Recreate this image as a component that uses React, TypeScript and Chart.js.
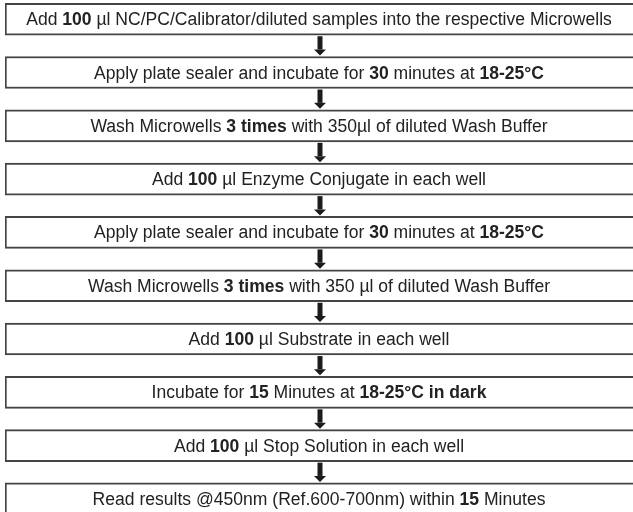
import { useEffect, useRef } from "react";
import { Chart, registerables } from "chart.js";

Chart.register(...registerables);

// Steps of the protocol (**...** = bold segment)
const steps: string[] = [
  "Add **100** µl NC/PC/Calibrator/diluted samples into the respective Microwells",
  "Apply plate sealer and incubate for **30** minutes at **18-25°C**",
  "Wash Microwells **3 times** with 350µl of diluted Wash Buffer",
  "Add **100** µl Enzyme Conjugate in each well",
  "Apply plate sealer and incubate for **30** minutes at **18-25°C**",
  "Wash Microwells **3 times** with 350 µl of diluted Wash Buffer",
  "Add **100** µl Substrate in each well",
  "Incubate for **15** Minutes at **18-25°C in dark**",
  "Add **100** µl Stop Solution in each well",
  "Read results @450nm (Ref.600-700nm) within **15** Minutes",
];
const stepOrder: number[] = [0, 1, 2, 3, 4, 5, 6, 7, 8, 9];
const boxStart: number[] = [0, 0, 0, 0, 0, 0, 0, 0, 0, 0];
const boxEnd: number[] = [100, 100, 100, 100, 100, 100, 100, 100, 100, 100];

const FONT_SIZE = 18;
const FONT_FAMILY = '"Liberation Sans", Arial, sans-serif';
const TEXT_SX = 0.975;
const TEXT_COLOR = "#222222";
const ARROW_COLOR = "#1b1b1b";

function parseSegments(s: string): { text: string; bold: boolean }[] {
  const parts = s.split("**");
  return parts
    .map((t, i) => ({ text: t, bold: i % 2 === 1 }))
    .filter((p) => p.text.length > 0);
}

const flowPlugin = {
  id: "flowText",
  afterDatasetsDraw(chart: any) {
    const meta = chart.getDatasetMeta(0);
    const ctx: CanvasRenderingContext2D = chart.ctx;
    const bars = meta.data;
    bars.forEach((bar: any, i: number) => {
      const p = bar.getProps(["x", "y", "base", "height"], true);
      const cx = (p.x + p.base) / 2;
      const cy = p.y;
      const segs = parseSegments(steps[i]);
      ctx.save();
      ctx.textBaseline = "middle";
      ctx.fillStyle = TEXT_COLOR;
      let total = 0;
      const widths = segs.map((sg) => {
        ctx.font = `${sg.bold ? "bold " : ""}${FONT_SIZE}px ${FONT_FAMILY}`;
        const w = ctx.measureText(sg.text).width;
        total += w;
        return w;
      });
      ctx.translate(cx, cy + 1);
      ctx.scale(TEXT_SX, 1);
      let x = -total / 2;
      segs.forEach((sg, k) => {
        ctx.font = `${sg.bold ? "bold " : ""}${FONT_SIZE}px ${FONT_FAMILY}`;
        ctx.textAlign = "left";
        ctx.fillText(sg.text, x, 0);
        x += widths[k];
      });
      ctx.restore();
      if (i < bars.length - 1) {
        const n = bars[i + 1].getProps(["y", "height"], true);
        const bottom = p.y + p.height / 2;
        const top = n.y - n.height / 2;
        const ax = cx + 1;
        ctx.save();
        ctx.fillStyle = ARROW_COLOR;
        const headH = 6;
        const shaftW = 5;
        const headW = 12;
        const tipY = top - 1;
        const headTop = tipY - headH;
        ctx.fillRect(ax - shaftW / 2, bottom + 1, shaftW, headTop - bottom - 1);
        ctx.beginPath();
        ctx.moveTo(ax - headW / 2, headTop);
        ctx.lineTo(ax + headW / 2, headTop);
        ctx.lineTo(ax, tipY);
        ctx.closePath();
        ctx.fill();
        ctx.restore();
      }
    });
  },
};

export default function App() {
  const ref = useRef<HTMLCanvasElement | null>(null);
  useEffect(() => {
    document.body.style.margin = "0";
    if (!ref.current) return;
    const chart = new Chart(ref.current, {
      type: "bar",
      data: {
        datasets: [
          {
            data: stepOrder.map((y, i) => ({ x: [boxStart[i], boxEnd[i]], y })) as any,
            backgroundColor: "#ffffff",
            borderColor: "#444444",
            borderWidth: 2,
            borderSkipped: "right" as any,
            barThickness: 32,
          },
        ],
      },
      options: {
        indexAxis: "y",
        animation: false,
        responsive: false,
        layout: { padding: { left: 5, right: 0, top: 0, bottom: 0 } },
        scales: {
          x: { type: "linear", min: 0, max: 100, display: false, offset: false },
          y: {
            type: "linear",
            min: -0.361,
            max: 9.245,
            reverse: true,
            display: false,
            offset: false,
            grid: { offset: false },
          },
        },
        plugins: { legend: { display: false }, tooltip: { enabled: false } },
      },
      plugins: [flowPlugin],
    });
    return () => chart.destroy();
  }, []);
  return (
    <div style={{ width: 633, height: 512, background: "#fff" }}>
      <canvas ref={ref} width={633} height={512} />
    </div>
  );
}
